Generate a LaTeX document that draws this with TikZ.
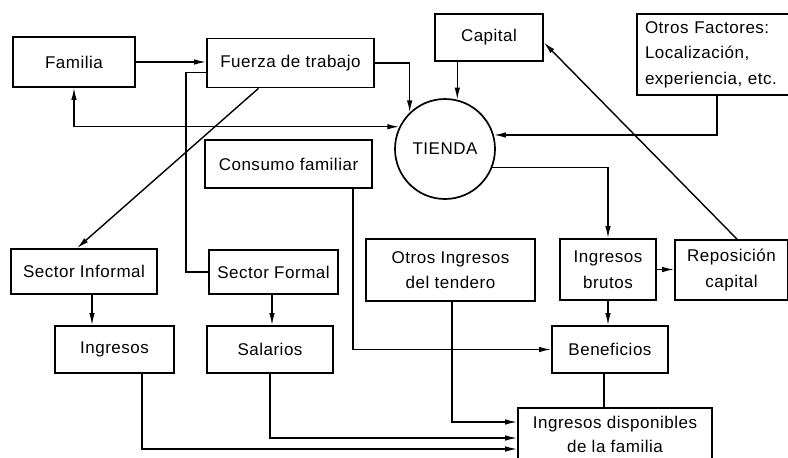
\documentclass[tikz,border=0pt]{standalone}
\usepackage{fontspec}
\setmainfont{Liberation Sans}[LetterSpace=3]
\usetikzlibrary{arrows.meta,calc}
\tikzset{
  box/.style={draw, line width=1.7pt, inner sep=2pt, align=center,
    font=\fontsize{17}{25.5}\selectfont},
  link/.style={line width=1.4pt},
  arr/.style={link, -{Latex[length=12pt,width=5.5pt]}},
  birr/.style={link, {Latex[length=12pt,width=5.5pt]}-{Latex[length=12pt,width=5.5pt]}}
}
\begin{document}
\begin{tikzpicture}[x=1pt,y=-1pt]
\useasboundingbox (0,0) rectangle (788,458);
\fill[white] (0,0) rectangle (788,458);
% boxes
\node[box, minimum width=122pt, minimum height=50pt] (fam) at (74,62) {Familia};
\node[box, minimum width=167pt, minimum height=49pt] (fuer) at (290.5,63) {Fuerza de trabajo};
\node[box, minimum width=108pt, minimum height=47pt] (cap) at (489,37.5) {Capital};
\node[box, minimum width=153pt, minimum height=81pt, align=left, text width=137pt] (otros) at (713.5,54.5) {Otros Factores:\\Localización,\\experiencia, etc.};
\node[draw, circle, line width=1.7pt, minimum size=100pt, inner sep=0pt, font=\fontsize{17}{26}\selectfont] (tienda) at (445,149) {TIENDA};
\node[box, minimum width=167pt, minimum height=48pt] (cons) at (288.5,164) {Consumo familiar};
\node[box, minimum width=146pt, minimum height=45pt] (sinf) at (84,271.5) {Sector Informal};
\node[box, minimum width=129pt, minimum height=44pt] (sfor) at (273.5,272) {Sector Formal};
\node[box, minimum width=119pt, minimum height=47pt] (ingr) at (114.5,349.5) {Ingresos};
\node[box, minimum width=126pt, minimum height=47pt] (sal) at (270,349.5) {Salarios};
\node[box, minimum width=169pt, minimum height=62pt] (oing) at (450.5,270) {Otros Ingresos\\del tendero};
\node[box, minimum width=96pt, minimum height=61pt] (ibr) at (608,269.5) {Ingresos\\brutos};
\node[box, minimum width=113pt, minimum height=60pt] (rep) at (731.5,270) {Reposición\\capital};
\node[box, minimum width=116pt, minimum height=47pt] (ben) at (610,349.5) {Beneficios};
\node[box, minimum width=194pt, minimum height=52pt, font=\fontsize{17}{24}\selectfont] (idisp) at (615,434) {Ingresos disponibles\\de la familia};
% connectors
\draw[arr] (fam.east) -- (fuer.west |- fam.east);
\draw[arr] (fuer.east) -| (tienda.134);
\draw[arr] (tienda.76 |- cap.south) -- (tienda.76);
\draw[birr] (fam.south) |- (tienda.154);
\draw[arr] ([xshift=-32pt]fuer.south) -- ([xshift=-7pt]sinf.north);
\draw[link] ([yshift=-9.5pt]fuer.west) -- ++(-20,0) |- (sfor.west);
\draw[arr] ([xshift=8pt]sinf.south) -- ([xshift=8pt]sinf.south |- ingr.north);
\draw[arr] ([xshift=-1.5pt]sfor.south) -- ([xshift=-1.5pt]sfor.south |- sal.north);
\draw[arr] ([xshift=64.5pt]cons.south) |- (ben.west);
\draw[arr] (tienda.-21) -| (ibr.north);
\draw[arr] ([xshift=3.5pt]otros.south) |- (tienda.16);
\draw[arr] ([xshift=5.5pt]rep.north) -- ([yshift=-5pt]cap.east);
\draw[arr] (ibr.east) -- (rep.west |- ibr.east);
\draw[arr] (ibr.south) -- (ibr.south |- ben.north);
\draw[link] ([xshift=-6pt]ben.south) -- ([xshift=-6pt]ben.south |- idisp.north);
\draw[arr] ([xshift=1.5pt]oing.south) |- ([yshift=12pt]idisp.west);
\draw[arr] (sal.south) |- ([yshift=-4pt]idisp.west);
\draw[arr] ([xshift=27.5pt]ingr.south) |- ([yshift=-15pt]idisp.west);
\end{tikzpicture}
\end{document}
